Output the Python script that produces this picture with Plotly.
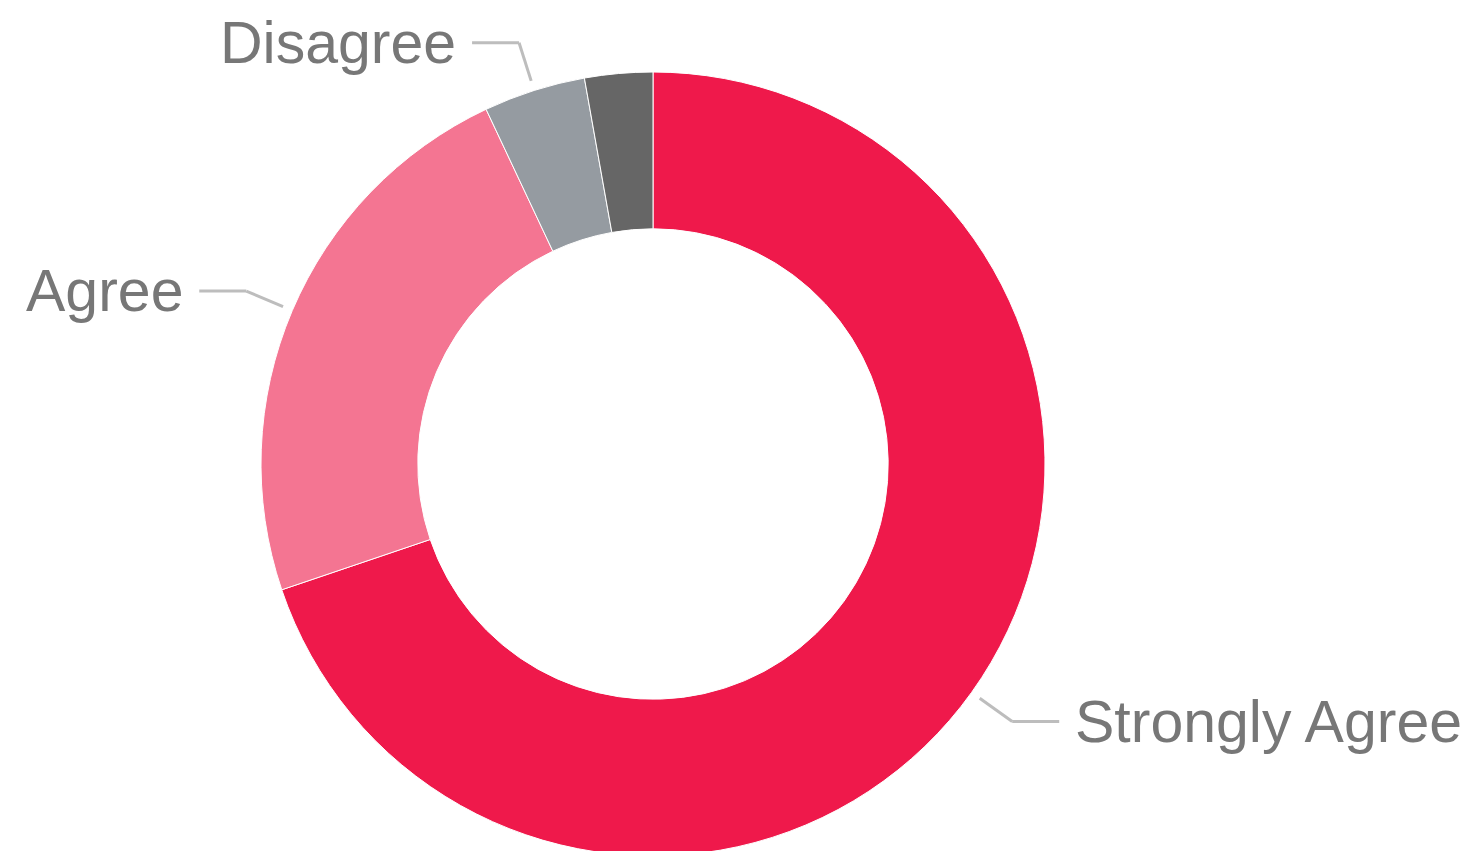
import math

import plotly.graph_objects as go

# survey answers, clockwise from 12 o'clock (percent)
answers = ["Strongly Agree", "Agree", "Disagree", "Strongly Disagree"]
shares = [69.8, 23.2, 4.2, 2.8]
colors = ["#EF194B", "#F47592", "#959BA1", "#666666"]
show_label = [True, True, True, False]

W, H = 1471, 851
MT, MB = 64, 3  # page body adds 8px offset, so everything is nudged up/left
CX = 645  # pie centre, px
plot_h = H - MT - MB
R = plot_h / 2
CY = MT + R

fig = go.Figure(
    go.Pie(
        labels=answers,
        values=shares,
        hole=0.6,
        sort=False,
        direction="clockwise",
        rotation=0,
        textinfo="none",
        hoverinfo="label+percent",
        marker=dict(colors=colors, line=dict(color="#ffffff", width=1)),
        domain=dict(x=[(CX - R) / W, (CX + R) / W], y=[0, 1]),
    )
)


def to_paper(px, py):
    return px / W, 1 - (py - MT) / plot_h


# leader lines + labels, placed from the slice mid-angles
total = sum(shares)
acc = 0
for name, v, show in zip(answers, shares, show_label):
    mid = (acc + v / 2) / total * 2 * math.pi
    acc += v
    if not show:
        continue
    sx, sy = math.sin(mid), -math.cos(mid)
    p0 = (CX + (R + 10) * sx, CY + (R + 10) * sy)
    p1 = (CX + (R + 50) * sx, CY + (R + 50) * sy)
    side = 1 if sx >= 0 else -1
    p2 = (p1[0] + side * 47, p1[1])
    for a, b in ((p0, p1), (p1, p2)):
        x0, y0 = to_paper(*a)
        x1, y1 = to_paper(*b)
        fig.add_shape(
            type="line", xref="paper", yref="paper",
            x0=x0, y0=y0, x1=x1, y1=y1,
            line=dict(color="#BDBDBD", width=3),
        )
    tx, ty = to_paper(p2[0] + side * 14, p2[1])
    fig.add_annotation(
        x=tx, y=ty, xref="paper", yref="paper",
        text=name, showarrow=False,
        xanchor="left" if side > 0 else "right", yanchor="middle",
        font=dict(family="Liberation Sans, Arial, sans-serif", size=59, color="#777777"),
    )

fig.update_layout(
    width=W,
    height=H,
    showlegend=False,
    margin=dict(l=0, r=0, t=MT, b=MB),
    paper_bgcolor="#ffffff",
    plot_bgcolor="#ffffff",
)

fig.write_html("out.html")
